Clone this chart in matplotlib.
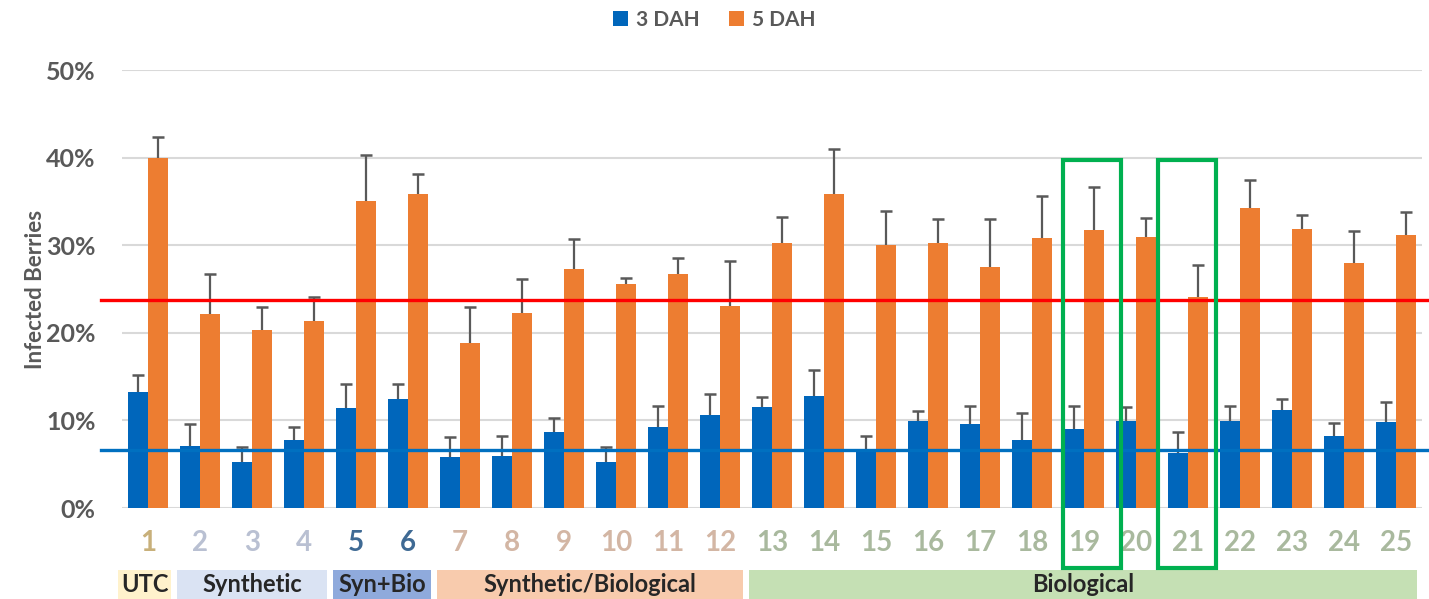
import numpy as np
import matplotlib
matplotlib.use("Agg")
import matplotlib.pyplot as plt
from matplotlib.patches import Rectangle
import matplotlib.transforms as mtransforms

plt.rcParams['font.family'] = ['Lato', 'DejaVu Sans']

# data (percent)
labels = [str(i) for i in range(1, 26)]
dah3 = [13.2, 7.1, 5.2, 7.8, 11.4, 12.4, 5.8, 5.9, 8.7, 5.2, 9.2, 10.6, 11.5,
        12.8, 6.4, 9.9, 9.6, 7.8, 9.0, 9.9, 6.3, 9.9, 11.2, 8.2, 9.8]
dah3_err = [2.0, 2.5, 1.8, 1.4, 2.7, 1.7, 2.3, 2.3, 1.6, 1.8, 2.4, 2.4, 1.2,
            2.9, 1.8, 1.2, 2.0, 3.0, 2.6, 1.6, 2.4, 1.7, 1.3, 1.5, 2.3]
dah5 = [40.0, 22.2, 20.3, 21.4, 35.1, 35.8, 18.8, 22.3, 27.3, 25.6, 26.7, 23.1, 30.3,
        35.8, 30.0, 30.3, 27.5, 30.8, 31.7, 30.9, 24.1, 34.2, 31.9, 28.0, 31.2]
dah5_err = [2.3, 4.5, 2.6, 2.7, 5.2, 2.3, 4.1, 3.8, 3.4, 0.7, 1.8, 5.1, 2.9,
            5.2, 3.9, 2.7, 5.5, 4.8, 4.9, 2.2, 3.6, 3.2, 1.5, 3.6, 2.6]
ref_5dah = 23.8
ref_3dah = 6.6

groups = ['UTC', 'Synthetic', 'Syn+Bio', 'Synthetic/Biological', 'Biological']
group_start = [1, 2, 5, 7, 13]
group_end = [1, 4, 6, 12, 25]
group_colors = ['#fff2cc', '#dae3f3', '#8faadc', '#f8cbad', '#c5e0b4']
tick_colors = ['#c8b07a'] + ['#b9c0d2'] * 3 + ['#3f6a94'] * 2 + ['#d3b6a4'] * 6 + ['#a9b99e'] * 13

highlight = [19, 21]

fig = plt.figure(figsize=(14.29, 5.99), dpi=100)
ax = fig.add_axes([122 / 1429, 1 - 508 / 599, 1300 / 1429, 438 / 599])

x = np.arange(len(labels))
w = 0.385
ekw = dict(ecolor='#595959', elinewidth=1.6, capsize=4.5, capthick=1.8)
b3 = ax.bar(x - w / 2, dah3, w, color='#0066bb', label='3 DAH',
            yerr=[np.zeros(len(x)), dah3_err], error_kw=ekw, zorder=2)
b5 = ax.bar(x + w / 2, dah5, w, color='#ed7d31', label='5 DAH',
            yerr=[np.zeros(len(x)), dah5_err], error_kw=ekw, zorder=2)
# only the upper caps
for b in (b3, b5):
    b.errorbar.lines[1][0].set_visible(False)

ax.set_xlim(-0.5, len(x) - 0.5)
ax.set_ylim(0, 50)
ax.set_yticks([0, 10, 20, 30, 40, 50])
ax.set_yticklabels(['0%', '10%', '20%', '30%', '40%', '50%'])
ax.yaxis.grid(True, color='#d9d9d9', linewidth=1.5, zorder=0)
ax.set_axisbelow(True)
for s in ax.spines.values():
    s.set_visible(False)
ax.tick_params(axis='y', length=0, pad=19, labelsize=18, labelcolor='#595959')
ax.tick_params(axis='x', length=0, pad=16, labelsize=20)
for t in ax.get_yticklabels():
    t.set_fontweight('bold')
ax.set_xticks(x)
ax.set_xticklabels(labels)
for t, c in zip(ax.get_xticklabels(), tick_colors):
    t.set_color(c)
    t.set_fontweight('bold')
ax.set_ylabel('Infected Berries', fontsize=16, fontweight='bold', color='#595959', labelpad=0)

# reference lines (extend past the plot area)
ax.plot([-0.016, 1.006], [ref_5dah, ref_5dah], color='#ff0000', linewidth=2.4,
        transform=ax.get_yaxis_transform(), clip_on=False, zorder=4)
ax.plot([-0.016, 1.006], [ref_3dah, ref_3dah], color='#0070c0', linewidth=2.4,
        transform=ax.get_yaxis_transform(), clip_on=False, zorder=4)

# group band below tick labels
trans = mtransforms.blended_transform_factory(ax.transData, fig.transFigure)
for name, s, e, c in zip(groups, group_start, group_end, group_colors):
    x0 = s - 1 - 0.45 if s > 1 else -0.58
    x1 = e - 1 + 0.45 if e < 25 else 24.4
    ax.add_patch(Rectangle((x0, 0), x1 - x0, 29 / 599, transform=trans,
                           facecolor=c, edgecolor='none', clip_on=False))
    ax.text((x0 + x1) / 2, 14 / 599, name, transform=trans, ha='center', va='center',
            fontsize=17, fontweight='bold', color='#262626')

# green highlight boxes
box_left = [-0.4, -0.57]
box_right = [0.71, 0.54]
for h, bl, br in zip(highlight, box_left, box_right):
    ax.add_patch(Rectangle((h - 1 + bl, -6.8), br - bl, 39.7 + 6.8, facecolor='none',
                           edgecolor='#00b050', linewidth=3, clip_on=False, zorder=5))

fig.legend(loc='upper center', bbox_to_anchor=(0.5, 1.015), ncol=2, frameon=False,
           prop={'size': 15, 'weight': 'bold'}, labelcolor='#595959',
           handlelength=0.7, handleheight=0.7, handletextpad=0.4, columnspacing=1.4)

fig.savefig('out.png', dpi=100)
